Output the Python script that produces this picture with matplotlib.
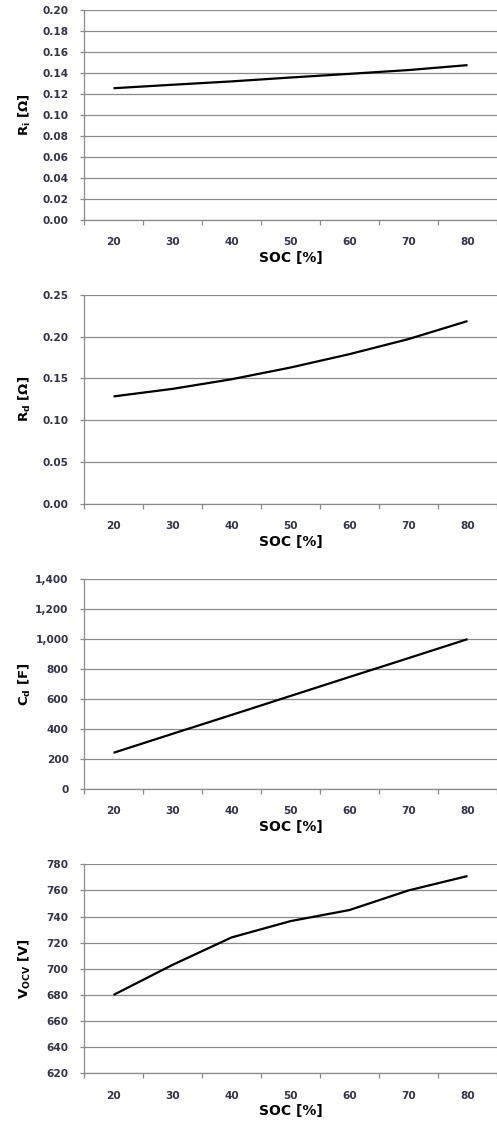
import matplotlib
matplotlib.use("Agg")
import matplotlib.pyplot as plt
from matplotlib.ticker import FuncFormatter, FixedLocator

# ---- data ----
soc = [20, 30, 40, 50, 60, 70, 80]
r_i = [0.1255, 0.1288, 0.1320, 0.1357, 0.1392, 0.1428, 0.1475]
r_d = [0.1285, 0.1375, 0.1490, 0.1630, 0.1790, 0.1970, 0.2185]
c_d = [240, 367, 493, 620, 747, 873, 1000]
v_ocv = [680, 703, 724, 736.5, 745, 760, 771]

ylabels = [r'R$_\mathbf{i}$ [Ω]', r'R$_\mathbf{d}$ [Ω]', r'C$_\mathbf{d}$ [F]', r'V$_\mathbf{OCV}$ [V]']
yticks = [
    [0.00, 0.02, 0.04, 0.06, 0.08, 0.10, 0.12, 0.14, 0.16, 0.18, 0.20],
    [0.00, 0.05, 0.10, 0.15, 0.20, 0.25],
    [0, 200, 400, 600, 800, 1000, 1200, 1400],
    [620, 640, 660, 680, 700, 720, 740, 760, 780],
]
fmts = [
    lambda v, p: f"{v:.2f}",
    lambda v, p: f"{v:.2f}",
    lambda v, p: f"{v:,.0f}",
    lambda v, p: f"{v:.0f}",
]
series = [r_i, r_d, c_d, v_ocv]

W, H = 497, 1124
fig = plt.figure(figsize=(W / 100, H / 100), dpi=100)
fig.patch.set_facecolor('white')

# axes boxes in pixels: (top, bottom)
boxes = [(10, 220), (294.7, 504), (579.3, 788.7), (864.3, 1073.3)]
left_px, right_px = 84, 497

grid_c = '#8a8a8a'
txt_c = '#33334a'

for i, (top, bot) in enumerate(boxes):
    ax = fig.add_axes([left_px / W, 1 - bot / H, (right_px - left_px) / W, (bot - top) / H])
    n = len(soc)
    xs = [k + 0.5 for k in range(n)]
    ax.plot(xs, series[i], color='black', lw=1.6, solid_capstyle='butt', zorder=3)
    ax.set_xlim(0, n)
    yt = yticks[i]
    ax.set_ylim(yt[0], yt[-1])
    ax.set_yticks(yt)
    ax.yaxis.set_major_formatter(FuncFormatter(fmts[i]))
    ax.grid(axis='y', color=grid_c, lw=0.9, zorder=0)
    ax.set_axisbelow(True)
    for s in ['top', 'right']:
        ax.spines[s].set_visible(False)
    for s in ['left', 'bottom']:
        ax.spines[s].set_color(grid_c)
        ax.spines[s].set_linewidth(0.9)
    # x axis: category boundaries as major ticks, labels at centers
    ax.xaxis.set_major_locator(FixedLocator(list(range(n + 1))))
    ax.xaxis.set_major_formatter(FuncFormatter(lambda v, p: ""))
    ax.set_xticks(xs, minor=True)
    ax.set_xticklabels([str(s) for s in soc], minor=True)
    ax.tick_params(axis='x', which='major', length=3.6, width=0.9, color=grid_c, direction='out')
    ax.tick_params(axis='x', which='minor', length=0, pad=12.5, labelsize=7.6,
                   labelcolor=txt_c)
    ax.tick_params(axis='y', length=2.9, width=0.9, color=grid_c, direction='out', pad=8.2,
                   labelsize=7.6, labelcolor=txt_c)
    for lab in ax.get_xticklabels(minor=True) + ax.get_yticklabels():
        lab.set_fontweight('bold')
    ax.text(0.5, -38 / (bot - top), 'SOC [%]', transform=ax.transAxes, ha='center', va='center',
            fontsize=10, fontweight='bold', color='black')
    ax.set_ylabel(ylabels[i], fontsize=9.5, fontweight='bold', color='black')
    ax.yaxis.set_label_coords((25 - left_px) / (right_px - left_px), 0.5)
    ax.yaxis.label.set_va('center')

fig.savefig('out.png', dpi=100, facecolor='white')
